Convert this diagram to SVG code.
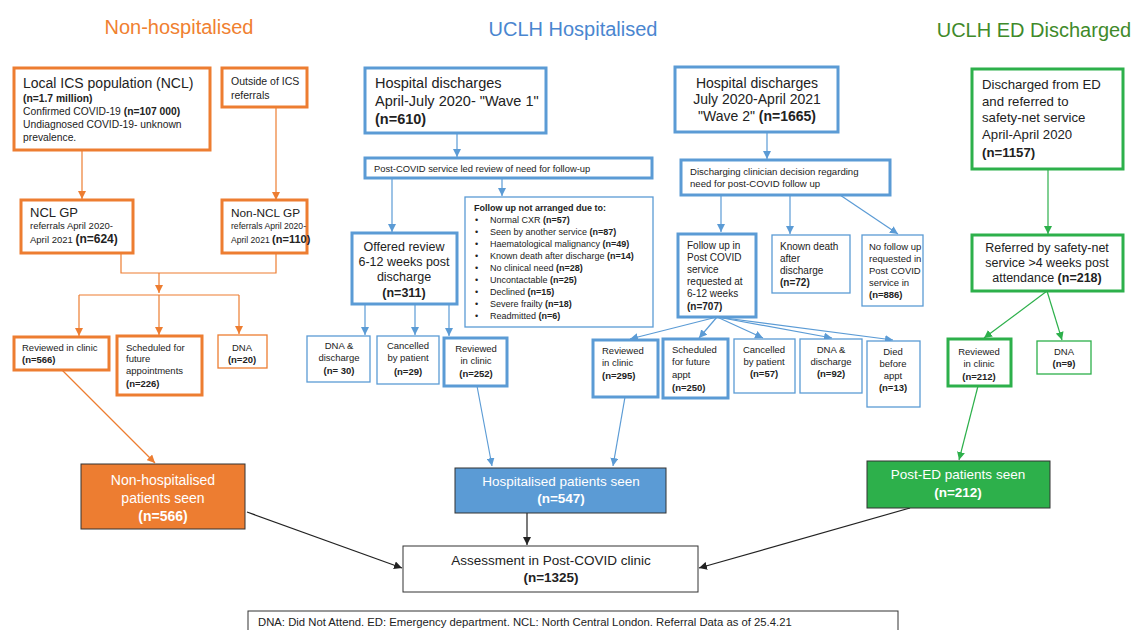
<svg xmlns="http://www.w3.org/2000/svg" width="1137" height="630" viewBox="0 0 1137 630">
<style>
text{font-family:"Liberation Sans",Arial,sans-serif;fill:#222}
.b{font-weight:bold}
.t{font-size:20px}
.o{stroke:#ED7D31;fill:#fff}
.bl{stroke:#5B9BD5;fill:#fff}
.g{stroke:#2DB04B;fill:#fff}
.k3{stroke-width:3}
.k1{stroke-width:1.3}
.c{text-anchor:middle}
.w{fill:#fff}
.lo{stroke:#ED7D31;stroke-width:1.2;fill:none;marker-end:url(#ao)}
.lb{stroke:#5B9BD5;stroke-width:1.2;fill:none;marker-end:url(#ab)}
.lg{stroke:#2DB04B;stroke-width:1.2;fill:none;marker-end:url(#ag)}
.lk{stroke:#222;stroke-width:1.2;fill:none;marker-end:url(#ak)}
.no{stroke:#ED7D31;stroke-width:1.2;fill:none}
.nb{stroke:#5B9BD5;stroke-width:1.2;fill:none}
</style>
<defs>
<marker id="ao" viewBox="0 0 8 8" refX="8" refY="4" markerWidth="8" markerHeight="8" markerUnits="userSpaceOnUse" orient="auto"><path d="M0,0 L8,4 L0,8 z" fill="#ED7D31"/></marker>
<marker id="ab" viewBox="0 0 8 8" refX="8" refY="4" markerWidth="8" markerHeight="8" markerUnits="userSpaceOnUse" orient="auto"><path d="M0,0 L8,4 L0,8 z" fill="#5B9BD5"/></marker>
<marker id="ag" viewBox="0 0 8 8" refX="8" refY="4" markerWidth="8" markerHeight="8" markerUnits="userSpaceOnUse" orient="auto"><path d="M0,0 L8,4 L0,8 z" fill="#2DB04B"/></marker>
<marker id="ak" viewBox="0 0 8 8" refX="8" refY="4" markerWidth="8" markerHeight="8" markerUnits="userSpaceOnUse" orient="auto"><path d="M0,0 L8,4 L0,8 z" fill="#222"/></marker>
</defs>
<rect width="1137" height="630" fill="#fff"/>

<g id="titles">
<text class="t c" x="179" y="34" style="fill:#F08030">Non-hospitalised</text>
<text class="t c" x="573" y="36" style="fill:#4A86D0">UCLH Hospitalised</text>
<text class="t c" x="1034" y="37" style="fill:#3F8A2A">UCLH ED Discharged</text>
</g>

<g id="connectors">
<line class="lo" x1="82" y1="150" x2="82" y2="199"/>
<line class="lo" x1="276" y1="107" x2="276" y2="200"/>
<polyline class="no" points="121,253 121,273 276,273 276,253"/>
<line class="lo" x1="159" y1="273" x2="159" y2="293"/>
<polyline class="no" points="79,295 239,295"/>
<line class="lo" x1="79" y1="295" x2="79" y2="336"/>
<line class="lo" x1="159" y1="295" x2="159" y2="335"/>
<line class="lo" x1="239" y1="295" x2="239" y2="334"/>
<line class="lo" x1="62" y1="370" x2="155" y2="463"/>

<line class="lb" x1="457" y1="133" x2="457" y2="157"/>
<line class="lb" x1="392" y1="178" x2="392" y2="232"/>
<line class="lb" x1="502" y1="178" x2="502" y2="196"/>
<line class="lb" x1="365" y1="304" x2="365" y2="335"/>
<line class="lb" x1="415" y1="304" x2="415" y2="335"/>
<line class="lb" x1="449" y1="304" x2="449" y2="336"/>
<line class="lb" x1="477" y1="386" x2="492" y2="466"/>

<line class="lb" x1="767" y1="132" x2="767" y2="159"/>
<line class="lb" x1="721" y1="195" x2="721" y2="232"/>
<line class="lb" x1="790" y1="195" x2="790" y2="234"/>
<line class="lb" x1="840" y1="195" x2="898" y2="234"/>
<line class="lb" x1="717" y1="317" x2="630" y2="339"/>
<line class="lb" x1="717" y1="317" x2="699" y2="338"/>
<line class="lb" x1="717" y1="317" x2="763" y2="338"/>
<line class="lb" x1="717" y1="317" x2="832" y2="338"/>
<line class="lb" x1="717" y1="317" x2="893" y2="340"/>
<line class="lb" x1="625" y1="397" x2="613" y2="466"/>

<line class="lg" x1="1048" y1="169" x2="1048" y2="234"/>
<line class="lg" x1="1047" y1="291" x2="984" y2="338"/>
<line class="lg" x1="1047" y1="291" x2="1062" y2="340"/>
<line class="lg" x1="978" y1="386" x2="959" y2="460"/>

<line class="lk" x1="247" y1="512" x2="402" y2="568"/>
<line class="lk" x1="527" y1="513" x2="527" y2="545"/>
<line class="lk" x1="910" y1="508" x2="699" y2="568"/>
</g>

<g id="local-ics">
<rect class="o k3" x="14" y="68" width="196" height="82"/>
<text x="23" y="88" font-size="14">Local ICS population (NCL)</text>
<text x="23" y="102" font-size="10.3" class="b">(n=1.7 million)</text>
<text x="23" y="115" font-size="10.3">Confirmed COVID-19 <tspan class="b">(n=107 000)</tspan></text>
<text x="23" y="128" font-size="10.3">Undiagnosed COVID-19- unknown</text>
<text x="23" y="141" font-size="10.3">prevalence.</text>
</g>
<g id="outside-ics">
<rect class="o k3" x="222" y="68" width="85" height="39"/>
<text x="231" y="85" font-size="10.5">Outside of ICS</text>
<text x="231" y="99" font-size="10.5">referrals</text>
</g>
<g id="ncl-gp">
<rect class="o k3" x="21" y="200" width="112" height="53"/>
<text x="30" y="217" font-size="13">NCL GP</text>
<text x="30" y="229" font-size="9.5">referrals April 2020-</text>
<text x="30" y="243" font-size="9.5">April 2021 <tspan class="b" font-size="12">(n=624)</tspan></text>
</g>
<g id="non-ncl-gp">
<rect class="o k3" x="222" y="200" width="85" height="53"/>
<text x="231" y="217" font-size="11.8">Non-NCL GP</text>
<text x="231" y="229" font-size="8.6">referrals April 2020-</text>
<text x="231" y="243" font-size="8.6">April 2021 <tspan class="b" font-size="11">(n=110)</tspan></text>
</g>
<g id="nh-reviewed">
<rect class="o k3" x="14" y="337" width="95" height="33"/>
<text x="22" y="351" font-size="9.5">Reviewed in clinic</text>
<text x="22" y="363" font-size="9.5" class="b">(n=566)</text>
</g>
<g id="nh-scheduled">
<rect class="o k3" x="117" y="336" width="85" height="59"/>
<text x="126" y="351" font-size="9.5">Scheduled for</text>
<text x="126" y="362" font-size="9.5">future</text>
<text x="126" y="374" font-size="9.5">appointments</text>
<text x="126" y="387" font-size="9.5" class="b">(n=226)</text>
</g>
<g id="nh-dna">
<rect class="o k1" x="218" y="335" width="49" height="33"/>
<text class="c" x="242" y="351" font-size="9.5">DNA</text>
<text class="c b" x="242" y="363" font-size="9.5">(n=20)</text>
</g>
<g id="nh-seen">
<rect x="81" y="464" width="164" height="65" fill="#ED7D31" stroke="#333" stroke-width="1"/>
<text class="c w" x="163" y="485" font-size="14">Non-hospitalised</text>
<text class="c w" x="163" y="503" font-size="14">patients seen</text>
<text class="c w b" x="163" y="521" font-size="14">(n=566)</text>
</g>

<g id="wave1">
<rect class="bl k3" x="365" y="68" width="181" height="65"/>
<text x="375" y="88" font-size="14.5">Hospital discharges</text>
<text x="375" y="106" font-size="14.5">April-July 2020- "Wave 1"</text>
<text x="375" y="124" font-size="14.5" class="b">(n=610)</text>
</g>
<g id="post-covid-review">
<rect class="bl k3" x="365" y="158" width="287" height="20"/>
<text x="374" y="172" font-size="9.4">Post-COVID service led review of need for follow-up</text>
</g>
<g id="not-arranged">
<rect class="bl k1" x="465" y="197" width="188" height="130"/>
<text x="474" y="211" font-size="9" class="b">Follow up not arranged due to:</text>
<g font-size="9">
<text x="475" y="223">•</text><text x="490" y="223">Normal CXR <tspan class="b">(n=57)</tspan></text>
<text x="475" y="235">•</text><text x="490" y="235">Seen by another service <tspan class="b">(n=87)</tspan></text>
<text x="475" y="247">•</text><text x="490" y="247">Haematological malignancy <tspan class="b">(n=49)</tspan></text>
<text x="475" y="259">•</text><text x="490" y="259">Known death after discharge <tspan class="b">(n=14)</tspan></text>
<text x="475" y="271">•</text><text x="490" y="271">No clinical need <tspan class="b">(n=28)</tspan></text>
<text x="475" y="283">•</text><text x="490" y="283">Uncontactable <tspan class="b">(n=25)</tspan></text>
<text x="475" y="295">•</text><text x="490" y="295">Declined <tspan class="b">(n=15)</tspan></text>
<text x="475" y="307">•</text><text x="490" y="307">Severe frailty <tspan class="b">(n=18)</tspan></text>
<text x="475" y="319">•</text><text x="490" y="319">Readmitted <tspan class="b">(n=6)</tspan></text>
</g>
</g>
<g id="offered-review">
<rect class="bl k3" x="352" y="233" width="105" height="71"/>
<text class="c" x="404" y="251" font-size="12.5">Offered review</text>
<text class="c" x="404" y="266" font-size="12.5">6-12 weeks post</text>
<text class="c" x="404" y="281" font-size="12.5">discharge</text>
<text class="c b" x="404" y="297" font-size="12.5">(n=311)</text>
</g>
<g id="w1-dna">
<rect class="bl k1" x="307" y="336" width="63" height="46"/>
<text class="c" x="339" y="349" font-size="9.5">DNA &amp;</text>
<text class="c" x="339" y="361" font-size="9.5">discharge</text>
<text class="c b" x="339" y="374" font-size="9.5">(n= 30)</text>
</g>
<g id="w1-cancelled">
<rect class="bl k1" x="377" y="336" width="62" height="48"/>
<text class="c" x="408" y="349" font-size="9.5">Cancelled</text>
<text class="c" x="408" y="361" font-size="9.5">by patient</text>
<text class="c b" x="408" y="375" font-size="9.5">(n=29)</text>
</g>
<g id="w1-reviewed">
<rect class="bl k3" x="444" y="338" width="63" height="48"/>
<text class="c" x="476" y="352" font-size="9.5">Reviewed</text>
<text class="c" x="476" y="364" font-size="9.5">in clinic</text>
<text class="c b" x="476" y="377" font-size="9.5">(n=252)</text>
</g>

<g id="wave2">
<rect class="bl k3" x="675" y="67" width="163" height="65"/>
<text class="c" x="757" y="88" font-size="14">Hospital discharges</text>
<text class="c" x="757" y="104" font-size="14">July 2020-April 2021</text>
<text class="c" x="757" y="121" font-size="14">"Wave 2" <tspan class="b">(n=1665)</tspan></text>
</g>
<g id="clinician-decision">
<rect class="bl k3" x="681" y="160" width="209" height="35"/>
<text x="690" y="175" font-size="9.6">Discharging clinician decision regarding</text>
<text x="690" y="187" font-size="9.6">need for post-COVID follow up</text>
</g>
<g id="w2-followup">
<rect class="bl k3" x="678" y="234" width="78" height="83"/>
<g font-size="10">
<text x="687" y="249">Follow up in</text>
<text x="687" y="261">Post COVID</text>
<text x="687" y="273">service</text>
<text x="687" y="285">requested at</text>
<text x="687" y="297">6-12 weeks</text>
<text x="687" y="310" class="b">(n=707)</text>
</g>
</g>
<g id="w2-death">
<rect class="bl k1" x="772" y="235" width="78" height="58"/>
<g font-size="10">
<text x="780" y="250">Known death</text>
<text x="780" y="262">after</text>
<text x="780" y="274">discharge</text>
<text x="780" y="286" class="b">(n=72)</text>
</g>
</g>
<g id="w2-nofollow">
<rect class="bl k1" x="862" y="235" width="61" height="71"/>
<g font-size="9.5">
<text x="869" y="250">No follow up</text>
<text x="869" y="262">requested in</text>
<text x="869" y="274">Post COVID</text>
<text x="869" y="286">service in</text>
<text x="869" y="298" class="b">(n=886)</text>
</g>
</g>
<g id="w2-reviewed">
<rect class="bl k3" x="593" y="340" width="65" height="57"/>
<text x="602" y="354" font-size="9.5">Reviewed</text>
<text x="602" y="366" font-size="9.5">in clinic</text>
<text x="602" y="379" font-size="9.5" class="b">(n=295)</text>
</g>
<g id="w2-scheduled">
<rect class="bl k3" x="663" y="339" width="65" height="59"/>
<text x="672" y="353" font-size="9.5">Scheduled</text>
<text x="672" y="365" font-size="9.5">for future</text>
<text x="672" y="378" font-size="9.5">appt</text>
<text x="672" y="391" font-size="9.5" class="b">(n=250)</text>
</g>
<g id="w2-cancelled">
<rect class="bl k1" x="734" y="339" width="61" height="54"/>
<text class="c" x="764" y="353" font-size="9.5">Cancelled</text>
<text class="c" x="764" y="365" font-size="9.5">by patient</text>
<text class="c b" x="764" y="377" font-size="9.5">(n=57)</text>
</g>
<g id="w2-dna">
<rect class="bl k1" x="800" y="339" width="62" height="54"/>
<text class="c" x="831" y="353" font-size="9.5">DNA &amp;</text>
<text class="c" x="831" y="365" font-size="9.5">discharge</text>
<text class="c b" x="831" y="377" font-size="9.5">(n=92)</text>
</g>
<g id="w2-died">
<rect class="bl k1" x="867" y="341" width="53" height="66"/>
<text class="c" x="893" y="355" font-size="9.5">Died</text>
<text class="c" x="893" y="367" font-size="9.5">before</text>
<text class="c" x="893" y="379" font-size="9.5">appt</text>
<text class="c b" x="893" y="391" font-size="9.5">(n=13)</text>
</g>
<g id="hosp-seen">
<rect x="455" y="468" width="211" height="45" fill="#5B9BD5" stroke="#333" stroke-width="1"/>
<text class="c w" x="561" y="486" font-size="13.5">Hospitalised patients seen</text>
<text class="c w b" x="561" y="503" font-size="13.5">(n=547)</text>
</g>

<g id="ed-discharged">
<rect class="g k3" x="972" y="69" width="151" height="100"/>
<g font-size="13.2">
<text x="982" y="89">Discharged from ED</text>
<text x="982" y="106">and referred to</text>
<text x="982" y="122">safety-net service</text>
<text x="982" y="139">April-April 2020</text>
<text x="982" y="157" class="b">(n=1157)</text>
</g>
</g>
<g id="safety-net">
<rect class="g k3" x="972" y="235" width="151" height="56"/>
<text class="c" x="1047" y="252" font-size="12.5">Referred by safety-net</text>
<text class="c" x="1047" y="267" font-size="12.5">service &gt;4 weeks post</text>
<text class="c" x="1047" y="282" font-size="12.5">attendance <tspan class="b">(n=218)</tspan></text>
</g>
<g id="ed-reviewed">
<rect class="g k3" x="948" y="339" width="63" height="47"/>
<text class="c" x="979" y="355" font-size="9.5">Reviewed</text>
<text class="c" x="979" y="367" font-size="9.5">in clinic</text>
<text class="c b" x="979" y="380" font-size="9.5">(n=212)</text>
</g>
<g id="ed-dna">
<rect class="g k1" x="1037" y="341" width="54" height="33"/>
<text class="c" x="1064" y="355" font-size="9.5">DNA</text>
<text class="c b" x="1064" y="367" font-size="9.5">(n=9)</text>
</g>
<g id="ed-seen">
<rect x="867" y="461" width="183" height="47" fill="#2DB04B" stroke="#333" stroke-width="1"/>
<text class="c w" x="958" y="479" font-size="13.5">Post-ED patients seen</text>
<text class="c w b" x="958" y="497" font-size="13.5">(n=212)</text>
</g>

<g id="assessment">
<rect x="403" y="546" width="295" height="46" fill="#fff" stroke="#333" stroke-width="1"/>
<text class="c" x="551" y="565" font-size="13.5">Assessment in Post-COVID clinic</text>
<text class="c b" x="551" y="582" font-size="13.5">(n=1325)</text>
</g>

<g id="footer">
<rect x="248" y="611" width="650" height="30" fill="#fff" stroke="#333" stroke-width="1"/>
<text x="258" y="626" font-size="11.3">DNA: Did Not Attend. ED: Emergency department. NCL: North Central London. Referral Data as of 25.4.21</text>
</g>
</svg>
